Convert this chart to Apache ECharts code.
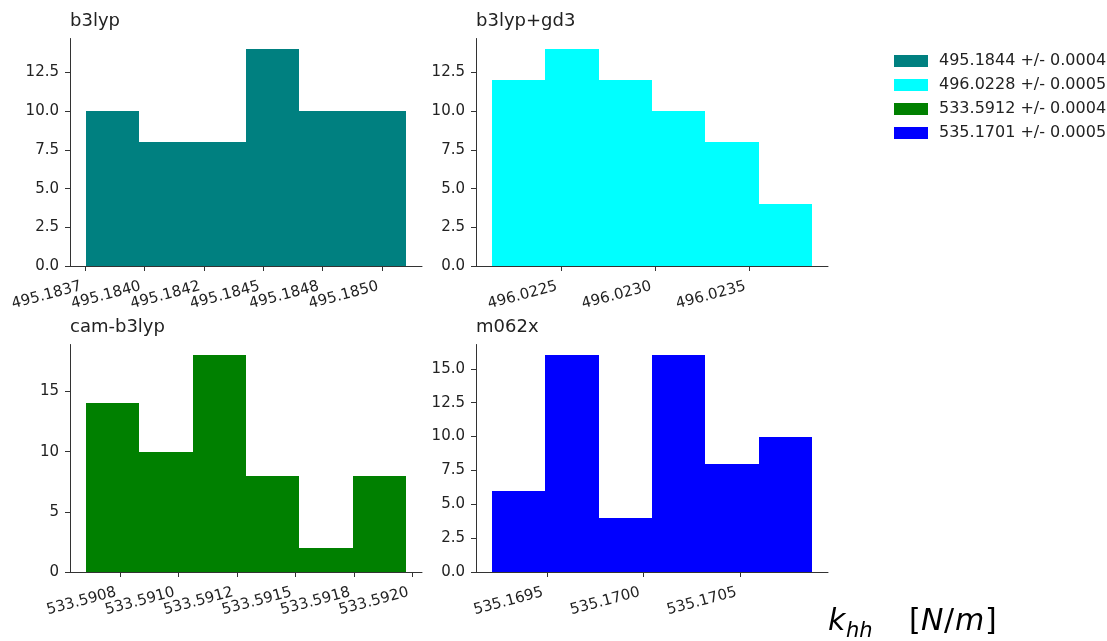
<!DOCTYPE html>
<html><head><meta charset="utf-8">
<script src="https://cdn.jsdelivr.net/npm/echarts@6/dist/echarts.min.js"></script>
<style>html,body{margin:0;padding:0;background:#fff}#c{width:1107px;height:641px}</style>
</head><body><div id="c"></div>
<script>
// ---- data ----
const panelTitles = ['b3lyp', 'b3lyp+gd3', 'cam-b3lyp', 'm062x'];
const legendNames = ['495.1844 +/- 0.0004', '496.0228 +/- 0.0005', '533.5912 +/- 0.0004', '535.1701 +/- 0.0005'];

const b3lypEdges = [495.183754, 495.183979, 495.184203, 495.184428, 495.184652, 495.184877, 495.185101];
const b3lypCounts = [10, 8, 8, 14, 10, 10];
const b3lypXTicks = [495.18375, 495.1840, 495.18425, 495.1845, 495.18475, 495.1850];
const b3lypXLabels = ['495.1837', '495.1840', '495.1842', '495.1845', '495.1848', '495.1850'];
const b3lypYTicks = [0, 2.5, 5, 7.5, 10, 12.5];
const b3lypYLabels = ['0.0', '2.5', '5.0', '7.5', '10.0', '12.5'];

const gd3Edges = [496.022134, 496.022417, 496.022700, 496.022984, 496.023267, 496.023550, 496.023833];
const gd3Counts = [12, 14, 12, 10, 8, 4];
const gd3XTicks = [496.0225, 496.0230, 496.0235];
const gd3XLabels = ['496.0225', '496.0230', '496.0235'];
const gd3YTicks = [0, 2.5, 5, 7.5, 10, 12.5];
const gd3YLabels = ['0.0', '2.5', '5.0', '7.5', '10.0', '12.5'];

const camEdges = [533.590605, 533.590833, 533.591061, 533.591289, 533.591517, 533.591745, 533.591973];
const camCounts = [14, 10, 18, 8, 2, 8];
const camXTicks = [533.59075, 533.5910, 533.59125, 533.5915, 533.59175, 533.5920];
const camXLabels = ['533.5908', '533.5910', '533.5912', '533.5915', '533.5918', '533.5920'];
const camYTicks = [0, 5, 10, 15];
const camYLabels = ['0', '5', '10', '15'];

const m06Edges = [535.169216, 535.169492, 535.169767, 535.170043, 535.170319, 535.170595, 535.170871];
const m06Counts = [6, 16, 4, 16, 8, 10];
const m06XTicks = [535.1695, 535.1700, 535.1705];
const m06XLabels = ['535.1695', '535.1700', '535.1705'];
const m06YTicks = [0, 2.5, 5, 7.5, 10, 12.5, 15];
const m06YLabels = ['0.0', '2.5', '5.0', '7.5', '10.0', '12.5', '15.0'];

// ---- build ----
const FONT = 'DejaVu Sans';
const TXT = '#222';
const LINE = '#333';
const colors = ['#008080', '#00ffff', '#008000', '#0000ff'];
const panels = [
  {edges: b3lypEdges, counts: b3lypCounts, xt: b3lypXTicks, xl: b3lypXLabels, yt: b3lypYTicks, yl: b3lypYLabels},
  {edges: gd3Edges, counts: gd3Counts, xt: gd3XTicks, xl: gd3XLabels, yt: gd3YTicks, yl: gd3YLabels},
  {edges: camEdges, counts: camCounts, xt: camXTicks, xl: camXLabels, yt: camYTicks, yl: camYLabels},
  {edges: m06Edges, counts: m06Counts, xt: m06XTicks, xl: m06XLabels, yt: m06YTicks, yl: m06YLabels}
];
const gridPos = [
  {left: 70, top: 38.5, width: 352, height: 227.5},
  {left: 476, top: 38.5, width: 352, height: 227.5},
  {left: 70, top: 344.5, width: 352, height: 227.5},
  {left: 476, top: 344.5, width: 352, height: 227.5}
];
const titleTops = [12, 12, 318, 318];

function lookup(ticks, labels) {
  return function (v) {
    let b = 0;
    for (let i = 1; i < ticks.length; i++) if (Math.abs(ticks[i] - v) < Math.abs(ticks[b] - v)) b = i;
    return labels[b];
  };
}

const grid = [], xAxis = [], yAxis = [], series = [], title = [];
panels.forEach((p, i) => {
  grid.push(Object.assign({containLabel: false}, gridPos[i]));
  const lo = p.edges[0], hi = p.edges[p.edges.length - 1], m = (hi - lo) * 0.05;
  xAxis.push({
    type: 'value', gridIndex: i, min: lo - m, max: hi + m, scale: true,
    axisLine: {show: true, onZero: false, lineStyle: {color: LINE, width: 1}},
    axisTick: {show: true, length: 5, inside: false, customValues: p.xt, lineStyle: {color: LINE}},
    axisLabel: {show: true, customValues: p.xt, rotate: 15, margin: 19, padding: [0, 4, 0, 0],
      fontSize: 15, fontFamily: FONT, color: TXT, formatter: lookup(p.xt, p.xl)},
    splitLine: {show: false}
  });
  const ymax = Math.max.apply(null, p.counts) * 1.05;
  yAxis.push({
    type: 'value', gridIndex: i, min: 0, max: ymax,
    axisLine: {show: true, lineStyle: {color: LINE, width: 1}},
    axisTick: {show: true, length: 5, inside: false, customValues: p.yt, lineStyle: {color: LINE}},
    axisLabel: {show: true, customValues: p.yt, margin: 11, fontSize: 15, fontFamily: FONT, color: TXT,
      formatter: lookup(p.yt, p.yl)},
    splitLine: {show: false}
  });
  const data = p.counts.map((c, k) => [p.edges[k], p.edges[k + 1], c]);
  series.push({
    type: 'custom', name: legendNames[i], xAxisIndex: i, yAxisIndex: i,
    itemStyle: {color: colors[i]},
    encode: {x: [0, 1], y: 2},
    data: data,
    clip: true,
    renderItem: function (params, api) {
      const p0 = api.coord([api.value(0), 0]);
      const p1 = api.coord([api.value(1), api.value(2)]);
      const x0 = Math.round(p0[0]), x1 = Math.round(p1[0]);
      const y0 = Math.round(p0[1]), y1 = Math.round(p1[1]);
      return {type: 'rect', shape: {x: x0, y: y1, width: x1 - x0, height: y0 - y1},
        style: {fill: colors[i]}};
    }
  });
  title.push({text: panelTitles[i], left: gridPos[i].left, top: titleTops[i], padding: 0,
    textStyle: {fontSize: 18, fontWeight: 'normal', fontFamily: FONT, color: TXT}});
});

const option = {
  animation: false,
  backgroundColor: '#fff',
  title: title,
  grid: grid, xAxis: xAxis, yAxis: yAxis, series: series,
  legend: {
    orient: 'vertical', left: 894, top: 53, padding: 0,
    itemWidth: 34, itemHeight: 12, itemGap: 8,
    data: legendNames.map(n => ({name: n, icon: 'rect'})),
    textStyle: {fontSize: 16, fontFamily: FONT, color: TXT, padding: [0, 0, 0, 6]}
  },
  graphic: [
    {type: 'text', left: 828, top: 607, style: {text: 'k', font: 'italic 30px "DejaVu Sans"', fill: '#000'}},
    {type: 'text', left: 846, top: 621, style: {text: 'hh', font: 'italic 21px "DejaVu Sans"', fill: '#000'}},
    {type: 'text', left: 909, top: 607, style: {text: '[', font: '30px "DejaVu Sans"', fill: '#000'}},
    {type: 'text', left: 921, top: 607, style: {text: 'N', font: 'italic 30px "DejaVu Sans"', fill: '#000'}},
    {type: 'text', left: 944, top: 607, style: {text: '/', font: '30px "DejaVu Sans"', fill: '#000'}},
    {type: 'text', left: 955, top: 607, style: {text: 'm', font: 'italic 30px "DejaVu Sans"', fill: '#000'}},
    {type: 'text', left: 985, top: 607, style: {text: ']', font: '30px "DejaVu Sans"', fill: '#000'}}
  ]
};
const chart = echarts.init(document.getElementById('c'), null, {renderer: 'canvas'});
chart.setOption(option);
</script>
</body></html>
